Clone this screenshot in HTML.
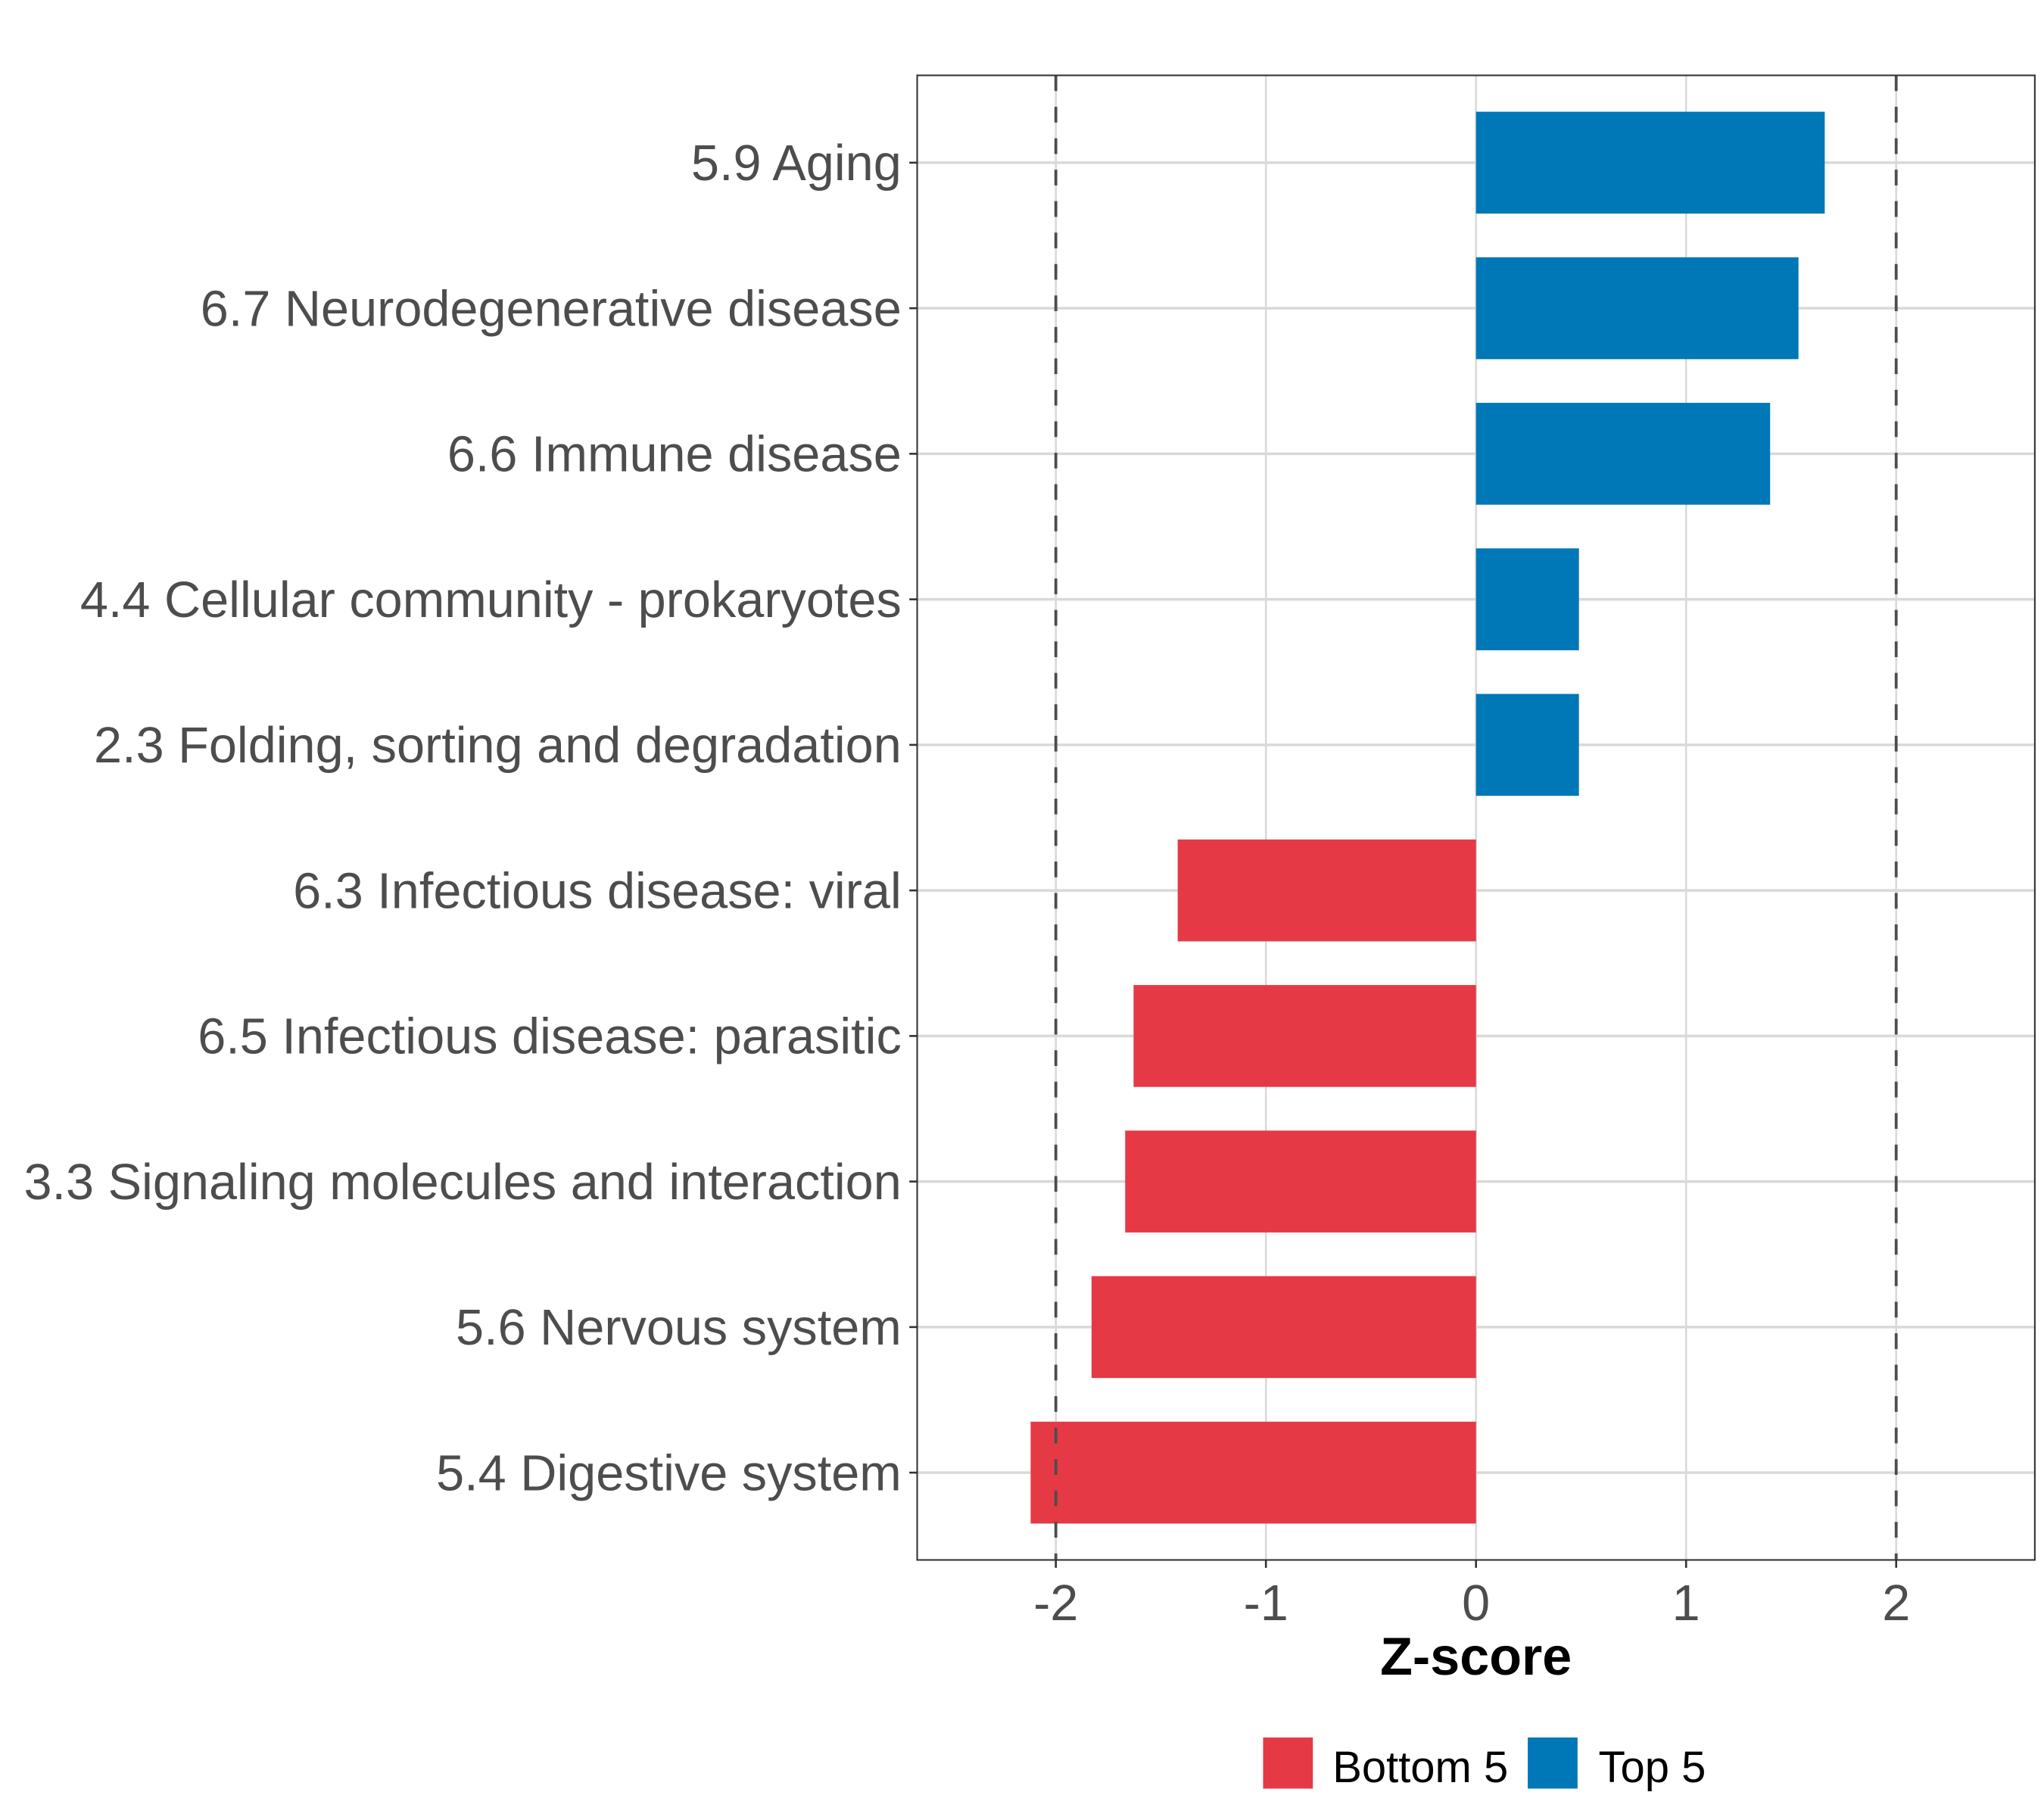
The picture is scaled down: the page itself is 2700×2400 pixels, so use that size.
<!DOCTYPE html>
<html><head><meta charset="utf-8"><style>
html,body{margin:0;padding:0;background:#fff;}
svg{display:block;}
text{font-family:"Liberation Sans",Arial,sans-serif;}
</style></head><body>
<svg id="chart" width="2700" height="2400" viewBox="0 0 1560 1386.67" preserveAspectRatio="none" xmlns="http://www.w3.org/2000/svg"></svg>
<script>
const categories = ["5.9 Aging","6.7 Neurodegenerative disease","6.6 Immune disease","4.4 Cellular community - prokaryotes","2.3 Folding, sorting and degradation","6.3 Infectious disease: viral","6.5 Infectious disease: parasitic","3.3 Signaling molecules and interaction","5.6 Nervous system","5.4 Digestive system"];
const zscores = [1.66,1.535,1.40,0.49,0.49,-1.42,-1.63,-1.67,-1.83,-2.12];
const groups = ["Top 5","Top 5","Top 5","Top 5","Top 5","Bottom 5","Bottom 5","Bottom 5","Bottom 5","Bottom 5"];
const xTicks = [-2,-1,0,1,2];
const xTickLabels = ["-2","-1","0","1","2"];
const thresholds = [-2,2];
const legendLabels = ["Bottom 5","Top 5"];

const colors = {"Bottom 5":"#E63946","Top 5":"#0077B6"};
const svg = document.getElementById('chart');
const NS = "http://www.w3.org/2000/svg";
const P = {l:700,r:1553,t:57.5,b:1190.5};
const xMin=-2.66,xMax=2.66;
function xs(v){return P.l+(v-xMin)/(xMax-xMin)*(P.r-P.l);}
const step=(P.b-P.t)/(categories.length-1+1.2);
function ys(i){return P.t+step*(0.6+i);}
function mk(tag,attrs,parent){const e=document.createElementNS(NS,tag);for(const k in attrs)e.setAttribute(k,attrs[k]);(parent||svg).appendChild(e);return e;}

xTicks.forEach((t,i)=>{
  const g=mk('line',{x1:xs(t),x2:xs(t),y1:P.t,y2:P.b,stroke:'#d9d9d9','stroke-width':1.5});
  
  
});
categories.forEach((c,i)=>{
  const g=mk('line',{x1:P.l,x2:P.r,y1:ys(i),y2:ys(i),stroke:'#d9d9d9','stroke-width':2});
  
  
});
categories.forEach((c,i)=>{
  const v=zscores[i];
  const x0=xs(Math.min(0,v)),x1=xs(Math.max(0,v));
  const h=step*0.7;
  const b=mk('rect',{x:x0,y:ys(i)-h/2,width:x1-x0,height:h,fill:colors[groups[i]]});
  
  
});
thresholds.forEach(t=>{
  const l=mk('line',{x1:xs(t),x2:xs(t),y1:P.t,y2:P.b,stroke:'#4d4d4d','stroke-width':2.2,'stroke-dasharray':'12 12'});
  
  
});
const border=mk('rect',{x:P.l,y:P.t,width:P.r-P.l,height:P.b-P.t,fill:'none',stroke:'#333','stroke-width':1.2});


categories.forEach((c,i)=>{
  mk('line',{x1:P.l-6,x2:P.l,y1:ys(i),y2:ys(i),stroke:'#333','stroke-width':1.5});
  const t=mk('text',{x:P.l-12,y:ys(i)+13.5,'text-anchor':'end','font-size':38.5,fill:'#4d4d4d'});
  t.textContent=c;
  
  
});
xTicks.forEach((v,i)=>{
  mk('line',{x1:xs(v),x2:xs(v),y1:P.b,y2:P.b+6,stroke:'#333','stroke-width':1.5});
  const t=mk('text',{x:xs(v),y:P.b+46,'text-anchor':'middle','font-size':38.5,fill:'#4d4d4d'});
  t.textContent=xTickLabels[i];
  
  
});
const xt=mk('text',{x:(P.l+P.r)/2,y:1278,'text-anchor':'middle','font-size':40.5,'font-weight':'bold',fill:'#000'});
xt.textContent='Z-score';


const lx=[964,1166], tx=[1017,1220];
legendLabels.forEach((lab,i)=>{
  const r=mk('rect',{x:lx[i],y:1326,width:38,height:39,fill:colors[lab]});
  
  
  const t=mk('text',{x:tx[i],y:1360,'font-size':33.5,fill:'#000'});
  t.textContent=lab;
  
  
});
</script>
</body></html>
